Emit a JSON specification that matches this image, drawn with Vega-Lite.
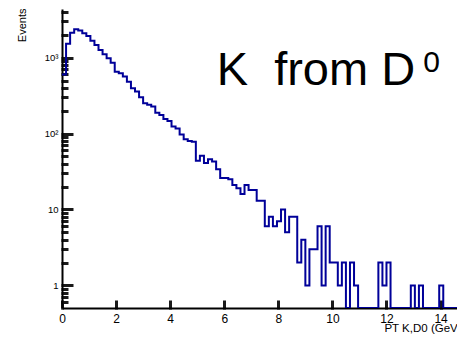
{
  "$schema": "https://vega.github.io/schema/vega-lite/v6.json",
  "autosize": {"type": "none"},
  "width": 395,
  "height": 299,
  "padding": {"left": 62, "top": 9, "right": 0, "bottom": 29},
  "background": "white",
  "config": {
    "view": {"stroke": null},
    "font": "Liberation Sans",
    "axis": {"domainColor": "black", "domainWidth": 2, "ticks": true, "tickSize": 1, "tickColor": "black", "tickWidth": 3, "grid": true, "gridColor": "#1a1a1a", "gridWidth": 3, "gridOpacity": 1, "labelColor": "black", "titleColor": "black", "labelFont": "Liberation Sans", "titleFont": "Liberation Sans", "titleFontWeight": "normal"}
  },
  "datasets": {
    "hist": [
      {"pt": 0.00, "n": 600}, {"pt": 0.15, "n": 1520}, {"pt": 0.30, "n": 2130}, {"pt": 0.45, "n": 2360},
      {"pt": 0.60, "n": 2270}, {"pt": 0.75, "n": 2095}, {"pt": 0.90, "n": 1930}, {"pt": 1.05, "n": 1675},
      {"pt": 1.20, "n": 1470}, {"pt": 1.35, "n": 1260}, {"pt": 1.50, "n": 1110}, {"pt": 1.65, "n": 982},
      {"pt": 1.80, "n": 859}, {"pt": 1.95, "n": 654}, {"pt": 2.10, "n": 623}, {"pt": 2.25, "n": 563},
      {"pt": 2.40, "n": 483}, {"pt": 2.55, "n": 395}, {"pt": 2.70, "n": 357}, {"pt": 2.85, "n": 301},
      {"pt": 3.00, "n": 250}, {"pt": 3.15, "n": 240}, {"pt": 3.30, "n": 228}, {"pt": 3.45, "n": 188},
      {"pt": 3.60, "n": 176}, {"pt": 3.75, "n": 155}, {"pt": 3.90, "n": 146}, {"pt": 4.05, "n": 124},
      {"pt": 4.20, "n": 117}, {"pt": 4.35, "n": 97}, {"pt": 4.50, "n": 84}, {"pt": 4.65, "n": 80},
      {"pt": 4.80, "n": 78}, {"pt": 4.95, "n": 44}, {"pt": 5.10, "n": 51}, {"pt": 5.25, "n": 41},
      {"pt": 5.40, "n": 46}, {"pt": 5.55, "n": 43}, {"pt": 5.70, "n": 34}, {"pt": 5.85, "n": 26},
      {"pt": 6.00, "n": 26}, {"pt": 6.15, "n": 25}, {"pt": 6.30, "n": 21}, {"pt": 6.45, "n": 19},
      {"pt": 6.60, "n": 16}, {"pt": 6.75, "n": 21}, {"pt": 6.90, "n": 18}, {"pt": 7.05, "n": 18},
      {"pt": 7.20, "n": 13}, {"pt": 7.35, "n": 13}, {"pt": 7.50, "n": 6}, {"pt": 7.65, "n": 8},
      {"pt": 7.80, "n": 6}, {"pt": 7.95, "n": 7}, {"pt": 8.10, "n": 10}, {"pt": 8.25, "n": 5},
      {"pt": 8.40, "n": 8}, {"pt": 8.55, "n": 8}, {"pt": 8.70, "n": 2}, {"pt": 8.85, "n": 4},
      {"pt": 9.00, "n": 1}, {"pt": 9.15, "n": 3}, {"pt": 9.30, "n": 3}, {"pt": 9.45, "n": 6},
      {"pt": 9.60, "n": 1}, {"pt": 9.75, "n": 6}, {"pt": 9.90, "n": 2}, {"pt": 10.05, "n": 2},
      {"pt": 10.20, "n": 1}, {"pt": 10.35, "n": 2}, {"pt": 10.50, "n": 0}, {"pt": 10.65, "n": 2},
      {"pt": 10.80, "n": 1}, {"pt": 10.95, "n": 0}, {"pt": 11.10, "n": 0}, {"pt": 11.25, "n": 0},
      {"pt": 11.40, "n": 0}, {"pt": 11.55, "n": 0}, {"pt": 11.70, "n": 2}, {"pt": 11.85, "n": 1},
      {"pt": 12.00, "n": 2}, {"pt": 12.15, "n": 0}, {"pt": 12.30, "n": 0}, {"pt": 12.45, "n": 0},
      {"pt": 12.60, "n": 0}, {"pt": 12.75, "n": 0}, {"pt": 12.90, "n": 1}, {"pt": 13.05, "n": 0},
      {"pt": 13.20, "n": 1}, {"pt": 13.35, "n": 0}, {"pt": 13.50, "n": 0}, {"pt": 13.65, "n": 0},
      {"pt": 13.80, "n": 0}, {"pt": 13.95, "n": 1}, {"pt": 14.10, "n": 0}, {"pt": 14.25, "n": 0},
      {"pt": 14.40, "n": 0}, {"pt": 14.55, "n": 0}, {"pt": 14.70, "n": 0}, {"pt": 14.85, "n": 0},
      {"pt": 15.00, "n": 0}
    ],
    "caption": [{"pt": 5.72, "n": 430, "text": "K\u00a0 from D"}],
    "superscript": [{"pt": 13.36, "n": 640, "text": "0"}]
  },
  "layer": [
    {
      "data": {"name": "hist"},
      "mark": {"type": "line", "interpolate": "step-after", "color": "#000099", "strokeWidth": 2, "clip": true, "invalid": "show"},
      "encoding": {
        "x": {
          "field": "pt", "type": "quantitative",
          "scale": {"domain": [0, 14.608], "nice": false, "zero": false},
          "axis": {
            "orient": "bottom",
            "values": [0, 0.5, 1, 1.5, 2, 2.5, 3, 3.5, 4, 4.5, 5, 5.5, 6, 6.5, 7, 7.5, 8, 8.5, 9, 9.5, 10, 10.5, 11, 11.5, 12, 12.5, 13, 13.5, 14, 14.5],
            "labelExpr": "datum.value % 2 == 0 ? format(datum.value, 'd') : ''",
            "gridDash": {"condition": {"test": "datum.value % 2 == 0", "value": [0, 291, 8, 2000]}, "value": [0, 295, 4, 2000]},
            "labelPadding": 4, "labelFontSize": 12, "labelFlush": false, "labelOverlap": false,
            "title": "PT K,D0 (GeV/c)", "titleFontSize": 11.5, "titleAnchor": "start", "titleAlign": "right", "titleX": 408, "titleY": 23, "titleBaseline": "alphabetic"
          }
        },
        "y": {
          "field": "n", "type": "quantitative",
          "scale": {"type": "log", "domain": [0.504, 4373], "nice": false, "clamp": true},
          "axis": {
            "orient": "left",
            "values": [0.6, 0.7, 0.8, 0.9, 1, 2, 3, 4, 5, 6, 7, 8, 9, 10, 20, 30, 40, 50, 60, 70, 80, 90, 100, 200, 300, 400, 500, 600, 700, 800, 900, 1000, 2000, 3000, 4000],
            "labelExpr": "datum.value == 1000 ? '10³' : datum.value == 100 ? '10²' : datum.value == 10 ? '10' : datum.value == 1 ? '1' : ''",
            "gridDash": {"condition": {"test": "datum.value == 1 || datum.value == 10 || datum.value == 100 || datum.value == 1000", "value": [11, 2000]}, "value": [6, 2000]},
            "labelPadding": 3, "labelFontSize": 9.5, "labelOverlap": false,
            "title": "Events", "titleFontSize": 11, "titleAngle": -90, "titleAlign": "right", "titleBaseline": "alphabetic", "titleX": -37, "titleY": -1
          }
        }
      }
    },
    {
      "data": {"name": "caption"},
      "mark": {"type": "text", "align": "left", "baseline": "alphabetic", "fontSize": 47, "color": "black"},
      "encoding": {
        "x": {"field": "pt", "type": "quantitative"},
        "y": {"field": "n", "type": "quantitative"},
        "text": {"field": "text"}
      }
    },
    {
      "data": {"name": "superscript"},
      "mark": {"type": "text", "align": "left", "baseline": "alphabetic", "fontSize": 30, "color": "black"},
      "encoding": {
        "x": {"field": "pt", "type": "quantitative"},
        "y": {"field": "n", "type": "quantitative"},
        "text": {"field": "text"}
      }
    }
  ]
}
